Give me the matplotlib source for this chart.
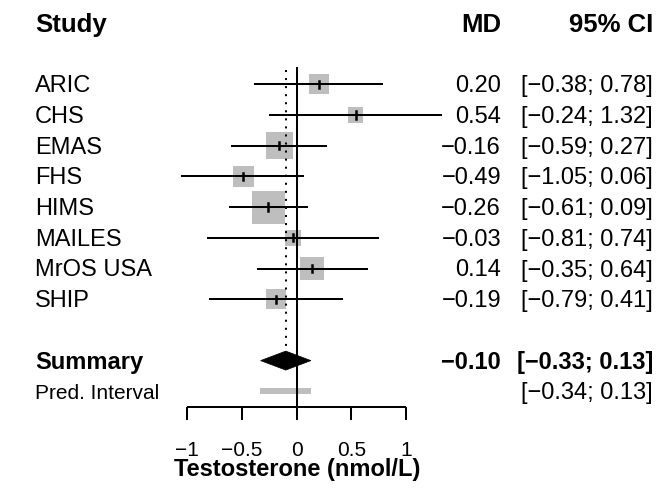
import numpy as np
import matplotlib
matplotlib.use('Agg')
import matplotlib.pyplot as plt
from matplotlib.patches import Rectangle, Polygon

plt.rcParams['font.family'] = ['Liberation Sans', 'DejaVu Sans']

# data
studies = ['ARIC', 'CHS', 'EMAS', 'FHS', 'HIMS', 'MAILES', 'MrOS USA', 'SHIP']
md = [0.20, 0.54, -0.16, -0.49, -0.26, -0.03, 0.14, -0.19]
lower = [-0.38, -0.24, -0.59, -1.05, -0.61, -0.81, -0.35, -0.79]
upper = [0.78, 1.32, 0.27, 0.06, 0.09, 0.74, 0.64, 0.41]
weights = [9.7, 5.5, 17.7, 10.7, 26.5, 6.2, 14.0, 9.7]   # relative box area
summary_md, summary_lo, summary_hi = -0.10, -0.33, 0.13
pred_lo, pred_hi = -0.34, 0.13
xticks = [-1, -0.5, 0, 0.5, 1]
xticklabels = ['\u22121', '\u22120.5', '0', '0.5', '1']
xlabel = 'Testosterone (nmol/L)'

GRAY = '#BEBEBE'
W, H = 663, 488
X0, XS = 296.7, 109.35   # pixel of x=0, pixels per unit
Y0, YS = 84.3, 30.7      # pixel of first row, pixels per row
LW = 1.45


def px(x):
    return (x - X0) / XS


def py(y):
    return 1 + (y - Y0) / YS


def fmt(v):
    return f'{v:.2f}'.replace('-', '\u2212')


fig = plt.figure(figsize=(W / 100, H / 100), dpi=100)
ax = fig.add_axes([0, 0, 1, 1])
ax.set_xlim(px(0), px(W))
ax.set_ylim(py(H), py(0))
ax.axis('off')

rows = np.arange(1, len(studies) + 1)
fs = 17

# header
ax.text(px(35), py(32), 'Study', fontsize=18.5, fontweight='bold', ha='left', va='baseline')
ax.text(px(501), py(32), 'MD', fontsize=18.5, fontweight='bold', ha='right', va='baseline')
ax.text(px(653), py(32), '95% CI', fontsize=18.5, fontweight='bold', ha='right', va='baseline')

# study rows
maxw = max(weights)
for r, name, m, lo, hi, w in zip(rows, studies, md, lower, upper, weights):
    side = 33 * np.sqrt(w / maxw)
    ax.add_patch(Rectangle((m - side / 2 / XS, r - side / 2 / YS), side / XS, side / YS,
                           facecolor=GRAY, edgecolor='none', zorder=2))
    ax.plot([lo, hi], [r, r], color='black', lw=LW, zorder=3)
    ax.plot([m, m], [r - 3.7 / YS, r + 3.7 / YS], color='black', lw=1.8, zorder=4)
    yb = r + 8 / YS
    ax.text(px(35), yb, name, fontsize=fs, ha='left', va='baseline')
    ax.text(px(501), yb, fmt(m), fontsize=fs, ha='right', va='baseline')
    ax.text(px(653), yb, f'[{fmt(lo)}; {fmt(hi)}]', fontsize=fs, ha='right', va='baseline')

# summary diamond
rs = len(studies) + 2
h = 9.5 / YS
ax.add_patch(Polygon([(summary_lo, rs), (summary_md, rs - h), (summary_hi, rs), (summary_md, rs + h)],
                     closed=True, facecolor='black', edgecolor='black', lw=0.5, zorder=4))
ax.text(px(35), rs + 8.7 / YS, 'Summary', fontsize=fs, fontweight='bold', ha='left', va='baseline')
ax.text(px(501), rs + 8.7 / YS, fmt(summary_md), fontsize=fs, fontweight='bold', ha='right', va='baseline')
ax.text(px(653), rs + 8.7 / YS, f'[{fmt(summary_lo)}; {fmt(summary_hi)}]', fontsize=fs,
        fontweight='bold', ha='right', va='baseline')

# prediction interval
rp = rs + 1
ax.add_patch(Rectangle((pred_lo, rp - 3 / YS), pred_hi - pred_lo, 6 / YS,
                       facecolor=GRAY, edgecolor='none', zorder=2))
ax.text(px(35), rp + 7.7 / YS, 'Pred. Interval', fontsize=15, ha='left', va='baseline')
ax.text(px(653), rp + 7.7 / YS, f'[{fmt(pred_lo)}; {fmt(pred_hi)}]', fontsize=fs,
        ha='right', va='baseline')

# reference lines
yaxis = py(407.3)
ax.plot([0, 0], [py(68), yaxis], color='black', lw=LW, zorder=5)
ax.plot([summary_md, summary_md], [py(70), py(350)], color='black', lw=LW,
        linestyle=(0, (1, 3)), zorder=5)

# x axis
ax.plot([xticks[0], xticks[-1]], [yaxis, yaxis], color='black', lw=LW, solid_capstyle='butt')
for t, lab in zip(xticks, xticklabels):
    ax.plot([t, t], [yaxis, py(420)], color='black', lw=LW, solid_capstyle='butt')
    ax.text(t, py(456), lab, fontsize=15, ha='center', va='baseline')
ax.text(0, py(476.5), xlabel, fontsize=fs, fontweight='bold', ha='center', va='baseline')

fig.savefig('out.png', dpi=100)
